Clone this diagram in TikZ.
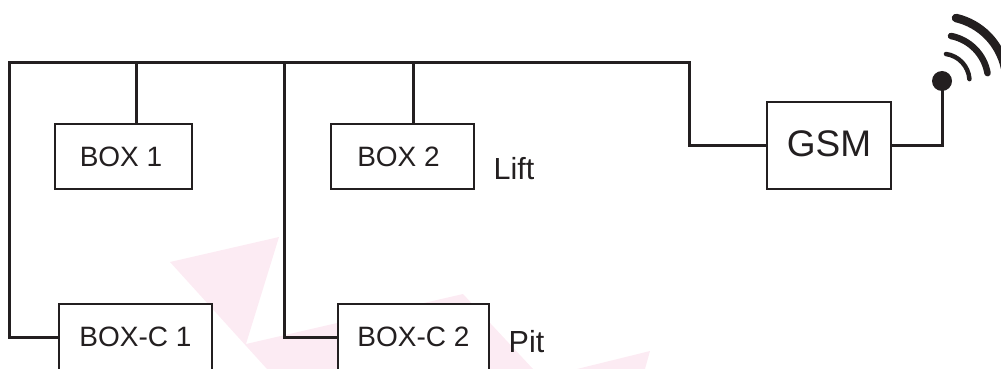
\documentclass[tikz,border=0pt]{standalone}
\usepackage{fontspec}
\setmainfont{Liberation Sans}
\definecolor{ink}{HTML}{231F20}
\definecolor{wm}{HTML}{FCEBF3}
\tikzset{
  boxn/.style={draw=ink,line width=2.8pt,fill=white,inner sep=0pt,text=ink,font=\fontsize{28}{30}\selectfont},
  wire/.style={draw=ink,line width=3pt,line join=miter},
  lab/.style={text=ink,font=\fontsize{30.5}{34}\selectfont,inner sep=0pt,anchor=base west},
  wave/.style={draw=ink,line cap=round,fill=none}
}
\begin{document}
\begin{tikzpicture}[x=1pt,y=-1pt]
\useasboundingbox (0,0) rectangle (1001,369);
\clip (0,0) rectangle (1001,369);
\fill[wm] (170,262) -- (279,237) -- (246,344) -- (463,294) -- (533,369) -- (577,369) -- (650,351) -- (645,369) -- (267,369) -- cycle;
\coordinate (tl) at (9,63);
\coordinate (tr) at (689,63);
\coordinate (tm) at (284,63);
\coordinate (dot) at (942,81);
\node[boxn,minimum width=137pt,minimum height=65pt] (b1) at (123.5,156.5) {\hspace*{-5pt}BOX 1};
\node[boxn,minimum width=143pt,minimum height=65pt] (b2) at (402.5,156.5) {\hspace*{-8pt}BOX 2};
\node[boxn,minimum width=153pt,minimum height=66pt] (c1) at (135.5,337) {BOX-C 1};
\node[boxn,minimum width=151pt,minimum height=66pt] (c2) at (413.5,337) {BOX-C 2};
\node[boxn,minimum width=124pt,minimum height=87pt,font=\fontsize{37}{40}\selectfont] (gsm) at (829,145.5) {\raisebox{4pt}{GSM}};
\node[lab] (lift) at (493.5,179) {Lift};
\node[lab] (pit) at (508.5,352) {Pit};
\coordinate (b1t) at ([xshift=12.5pt]b1.north);
\coordinate (b2t) at ([xshift=10.5pt]b2.north);
\fill[ink] (dot) circle (10pt);
\draw[wire] (c1.west) -| (tl) -- (tr) |- (gsm.west);
\draw[wire] (c2.west) -| (tm);
\draw[wire] (b1t |- tl) -- (b1t);
\draw[wire] (b2t |- tl) -- (b2t);
\draw[wire] (gsm.east) -| (dot);
\draw[wave,line width=4.5pt] (946,54) arc[start angle=82,end angle=4,radius=27.3pt];
\draw[wave,line width=6.5pt] (951,36) arc[start angle=79,end angle=10,radius=46pt];
\draw[wave,line width=8.5pt] (956,18) arc[start angle=77,end angle=12,radius=65pt];
\end{tikzpicture}
\end{document}
